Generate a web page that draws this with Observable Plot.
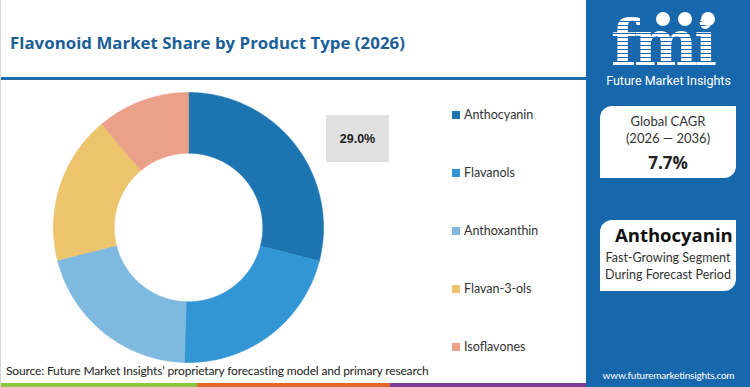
<!DOCTYPE html>
<html><head><meta charset="utf-8">
<script src="https://cdn.jsdelivr.net/npm/d3@7"></script>
<script src="https://cdn.jsdelivr.net/npm/@observablehq/plot@0.6"></script>
<style>
html,body{margin:0;padding:0;background:#fff;}
#root{position:relative;width:750px;height:387px;overflow:hidden;background:#fff;font-family:Lato,"Open Sans",sans-serif;border-left:1px solid #d8d8d8;box-sizing:border-box;}
.abs{position:absolute;}
#title{left:9px;top:31px;font-family:"Open Sans",sans-serif;font-weight:700;font-size:16.8px;color:#1a5e97;white-space:nowrap;letter-spacing:0.05px;}
#rule{left:0;top:77px;width:586px;height:3px;background:#1f6eab;}
#panel{left:585px;top:0;width:165px;height:387px;background:#1767ad;}
#chart{left:0;top:85px;}
#lbl{left:325px;top:115px;width:63px;height:47px;background:#e0e0e0;display:flex;align-items:center;justify-content:center;font-family:"Liberation Sans",Arial,sans-serif;font-weight:700;font-size:12.5px;color:#222;}
.leg{left:451px;font-size:12.5px;color:#333;display:flex;align-items:center;white-space:nowrap;}
.leg span.sw{display:inline-block;width:8px;height:8px;margin-right:4px;}
.box{background:#fff;border-radius:12px 0 12px 0;overflow:hidden;text-align:center;color:#333;}
#src{left:5px;top:363px;font-size:12px;color:#222;white-space:nowrap;letter-spacing:-0.15px;}
#url{left:585px;width:165px;top:369px;font-size:10px;color:#fff;text-align:center;letter-spacing:-0.2px;}
.bar{top:383px;height:4px;}
#fmi{left:610px;top:17px;font-family:"DejaVu Serif",serif;font-weight:700;font-size:63px;color:#fff;letter-spacing:-3px;line-height:0.85;transform:scaleX(0.95);transform-origin:0 0;}
#stripes{left:606px;top:18px;width:122px;height:52px;background:repeating-linear-gradient(to bottom, transparent 0px, transparent 3px, #1767ad 3px, #1767ad 4px);}
#fmisub{left:585px;width:165px;top:73px;text-align:center;font-size:12.5px;color:#fff;font-family:"Liberation Sans Narrow","Roboto",sans-serif;}
.dotc{width:14px;height:14px;border-radius:50%;background:#fff;}
</style></head>
<body>
<div id="root">
  <div id="panel" class="abs"></div>
  <div id="title" class="abs"></div>
  <div id="rule" class="abs"></div>
  <div id="chart" class="abs"></div>
  <div id="lbl" class="abs"></div>
  <div id="legend"></div>
  <div id="fmi" class="abs">fmi</div>
  <div id="stripes" class="abs"></div>
  <div class="abs dotc" style="left:655px;top:12px"></div>
  <div class="abs dotc" style="left:677px;top:12px"></div>
  <div class="abs dotc" style="left:700px;top:12px"></div>
  <div id="fmisub" class="abs">Future Market Insights</div>
  <div id="cagr" class="abs box" style="left:599px;top:106px;width:136px;height:72px;">
    <div style="font-size:13px;margin-top:7px;line-height:17px" id="cagrLabel"></div>
    <div style="font-size:13px;line-height:17px" id="cagrYears"></div>
    <div style="font-size:17px;font-weight:700;color:#222;margin-top:4px;font-family:'Open Sans',sans-serif" id="cagrVal"></div>
  </div>
  <div id="seg" class="abs box" style="left:599px;top:220px;width:136px;height:71px;">
    <div style="font-size:18.5px;font-weight:700;color:#111;margin-top:2px;margin-left:15px;text-align:left;white-space:nowrap;font-family:'Open Sans',sans-serif" id="segName"></div>
    <div style="font-size:12.5px;line-height:17px;margin-top:2px;white-space:nowrap" id="segL1"></div>
    <div style="font-size:12.5px;line-height:17px;white-space:nowrap" id="segL2"></div>
  </div>
  <div id="src" class="abs"></div>
  <div id="url" class="abs"></div>
  <div class="abs bar" style="left:0;width:196px;background:#8cc63f"></div>
  <div class="abs bar" style="left:196px;width:193px;background:#e3672b"></div>
  <div class="abs bar" style="left:389px;width:196px;background:#7b3f97"></div>
</div>
<script>
const titleText = "Flavonoid Market Share by Product Type (2026)";
const categories = ["Anthocyanin", "Flavanols", "Anthoxanthin", "Flavan-3-ols", "Isoflavones"];
const shares = [29.0, 21.5, 20.6, 17.8, 11.1];
const colors = ["#1c75b1", "#3396d4", "#7eb9e0", "#ebc46c", "#eba08a"];
const highlightIndex = 0;
const cagrLabel = "Global CAGR";
const cagrYears = "(2026 \u2014 2036)";
const cagrValue = "7.7%";
const segmentName = "Anthocyanin";
const segmentLines = ["Fast-Growing Segment", "During Forecast Period"];
const sourceText = "Source: Future Market Insights\u2019 proprietary forecasting model and primary research";
const urlText = "www.futuremarketinsights.com";

document.getElementById("title").textContent = titleText;
document.getElementById("cagrLabel").textContent = cagrLabel;
document.getElementById("cagrYears").textContent = cagrYears;
document.getElementById("cagrVal").textContent = cagrValue;
document.getElementById("segName").textContent = segmentName;
document.getElementById("segL1").textContent = segmentLines[0];
document.getElementById("segL2").textContent = segmentLines[1];
document.getElementById("src").textContent = sourceText;
document.getElementById("url").textContent = urlText;
document.getElementById("lbl").textContent = shares[highlightIndex].toFixed(1) + "%";

// legend
const legend = document.getElementById("legend");
categories.forEach((c, i) => {
  const d = document.createElement("div");
  d.className = "abs leg";
  d.style.top = (107 + i * 58) + "px";
  d.innerHTML = `<span class="sw" style="background:${colors[i]}"></span>`;
  d.appendChild(document.createTextNode(c));
  legend.appendChild(d);
});

// donut polygons from data
const rows = categories.map((c, i) => ({cat: c, share: shares[i]}));
const arcs = d3.pie().sort(null).value(d => d.share).startAngle(0).endAngle(2 * Math.PI)(rows);
const inner = 0.55, outer = 1;
const pts = [];
for (const a of arcs) {
  const n = Math.max(8, Math.ceil((a.endAngle - a.startAngle) / (Math.PI / 360)));
  const poly = [];
  for (let k = 0; k <= n; k++) {
    const t = a.startAngle + (a.endAngle - a.startAngle) * k / n;
    poly.push({cat: a.data.cat, x: outer * Math.sin(t), y: outer * Math.cos(t)});
  }
  for (let k = n; k >= 0; k--) {
    const t = a.startAngle + (a.endAngle - a.startAngle) * k / n;
    poly.push({cat: a.data.cat, x: inner * Math.sin(t), y: inner * Math.cos(t)});
  }
  poly.push(poly[0]);
  pts.push(...poly);
}
const chart = Plot.plot({
  width: 440,
  height: 285,
  margin: 0,
  x: {domain: [-1, 1], range: [52, 322], axis: null},
  y: {domain: [-1, 1], range: [277, 7], axis: null},
  color: {domain: categories, range: colors},
  marks: [
    Plot.line(pts, {x: "x", y: "y", z: "cat", fill: "cat", stroke: "cat", strokeWidth: 0.6, curve: "linear"})
  ]
});
document.getElementById("chart").appendChild(chart);
</script>
</body></html>
